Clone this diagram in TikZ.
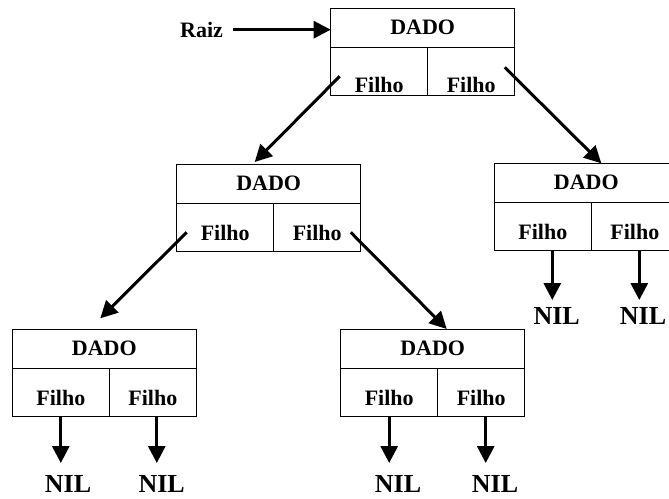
\documentclass[tikz,border=0pt]{standalone}
\usepackage{fontspec}
\setmainfont{Liberation Serif}
\usetikzlibrary{arrows.meta}

\newcommand*{\fonteno}{\bfseries\fontsize{22}{26}\selectfont}
\newcommand*{\fontenil}{\bfseries\fontsize{26}{31}\selectfont}

\tikzset{
	dado/.style={draw,line width=1pt,outer sep=0pt,inner sep=0pt,
		minimum width=184pt,minimum height=39pt,font=\fonteno},
	filho/.style={draw,line width=1pt,outer sep=0pt,inner sep=0pt,
		minimum height=48pt,text depth=0pt,text height=27pt,font=\fonteno},
	filhoe/.style={filho,minimum width=97pt,anchor=north west},
	filhod/.style={filho,minimum width=87pt,anchor=north east},
	nil/.style={inner sep=0pt,anchor=north,font=\fontenil},
	seta/.style={-{Triangle[length=17pt,width=17pt]},line width=3pt},
}

\begin{document}
\begin{tikzpicture}[x=1pt,y=-1pt]

	\clip (0,0) rectangle (669,498);

	% raiz
	\node[font=\fonteno,inner xsep=10pt,inner ysep=0pt] (raiz) at (201.5,29.7) {Raiz};
	\node[dado] (n1) at (422.7,27.8) {DADO};
	\node[filhoe,text height=43pt] (n1e) at (n1.south west) {Filho};
	\node[filhod,text height=43pt] (n1d) at (n1.south east) {Filho};

	% segundo nivel
	\node[dado] (n2) at (268.7,183.5) {DADO};
	\node[filhoe] (n2e) at (n2.south west) {Filho};
	\node[filhod] (n2d) at (n2.south east) {Filho};

	\node[dado] (n3) at (586.3,182.8) {DADO};
	\node[filhoe] (n3e) at (n3.south west) {Filho};
	\node[filhod] (n3d) at (n3.south east) {Filho};

	% folhas
	\node[dado] (n4) at (104.3,348.5) {DADO};
	\node[filhoe] (n4e) at (n4.south west) {Filho};
	\node[filhod] (n4d) at (n4.south east) {Filho};

	\node[dado] (n5) at (432.7,348.5) {DADO};
	\node[filhoe] (n5e) at (n5.south west) {Filho};
	\node[filhod] (n5d) at (n5.south east) {Filho};

	% NIL
	\node[nil] (nil3e) at (556.7,307) {NIL};
	\node[nil] (nil3d) at (643,307) {NIL};
	\node[nil] (nil4e) at (68,475) {NIL};
	\node[nil] (nil4d) at (161.7,475) {NIL};
	\node[nil] (nil5e) at (398,475) {NIL};
	\node[nil] (nil5d) at (495,475) {NIL};

	% ponteiros
	\draw[seta] (raiz.east) -- (raiz.east -| n1.west);
	\draw[seta] ([shift={(9,5)}]n1e.west) -- ([shift={(-14,-2)}]n2.north);
	\draw[seta] ([shift={(-10,-4)}]n1d.east) -- ([shift={(15,0)}]n3.north);
	\draw[seta] ([shift={(10,5.3)}]n2e.west) -- ([shift={(-4,-10.7)}]n4.north);
	\draw[seta] ([shift={(-10,5.3)}]n2d.east) -- ([shift={(14,0)}]n5.north);

	\draw[seta,shorten >=7pt] ([xshift=9.5pt]n3e.south) -- ([xshift=9.5pt]n3e.south |- nil3e.north);
	\draw[seta,shorten >=7pt] ([xshift=4.5pt]n3d.south) -- ([xshift=4.5pt]n3d.south |- nil3d.north);
	\draw[seta,shorten >=12pt] (n4e.south) -- (n4e.south |- nil4e.north);
	\draw[seta,shorten >=12pt] ([xshift=4pt]n4d.south) -- ([xshift=4pt]n4d.south |- nil4d.north);
	\draw[seta,shorten >=12pt] (n5e.south) -- (n5e.south |- nil5e.north);
	\draw[seta,shorten >=12pt] ([xshift=4.5pt]n5d.south) -- ([xshift=4.5pt]n5d.south |- nil5d.north);

\end{tikzpicture}
\end{document}
